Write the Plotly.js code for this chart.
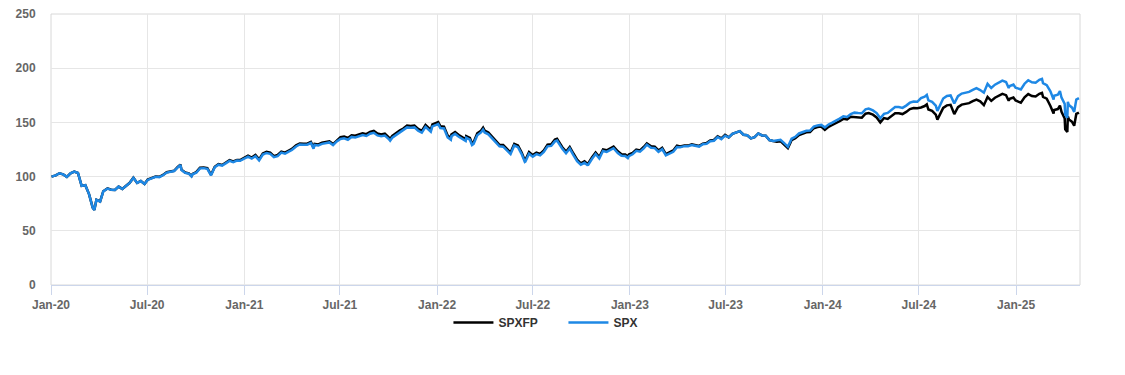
<!DOCTYPE html>
<html>
<head>
<meta charset="utf-8">
<script src="https://cdn.plot.ly/plotly-3.0.1.min.js"></script>
<style>
  html, body { margin: 0; padding: 0; background: #fff; }
  #chart { width: 1125px; height: 375px; }
</style>
</head>
<body>
<div id="chart"></div>
<script>
const dates = [
"2020-01-02","2020-01-03","2020-01-10","2020-01-17","2020-01-24","2020-01-31","2020-02-07","2020-02-14","2020-02-21","2020-02-28",
"2020-03-06","2020-03-13","2020-03-20","2020-03-23","2020-03-27","2020-04-03","2020-04-09","2020-04-17","2020-04-24","2020-05-01",
"2020-05-08","2020-05-15","2020-05-22","2020-05-29","2020-06-05","2020-06-12","2020-06-19","2020-06-26","2020-07-02","2020-07-10",
"2020-07-17","2020-07-24","2020-07-31","2020-08-07","2020-08-14","2020-08-21","2020-08-28","2020-09-02","2020-09-04","2020-09-11",
"2020-09-18","2020-09-23","2020-09-25","2020-10-02","2020-10-09","2020-10-16","2020-10-23","2020-10-30","2020-11-06","2020-11-13",
"2020-11-20","2020-11-27","2020-12-04","2020-12-11","2020-12-18","2020-12-24","2020-12-31",
"2021-01-08","2021-01-15","2021-01-22","2021-01-29","2021-02-05","2021-02-12","2021-02-19","2021-02-26","2021-03-05","2021-03-12",
"2021-03-19","2021-03-26","2021-04-01","2021-04-09","2021-04-16","2021-04-23","2021-04-30","2021-05-07","2021-05-12","2021-05-14",
"2021-05-21","2021-05-28","2021-06-04","2021-06-11","2021-06-18","2021-06-25","2021-07-02","2021-07-09","2021-07-16","2021-07-23",
"2021-07-30","2021-08-06","2021-08-13","2021-08-20","2021-08-27","2021-09-03","2021-09-10","2021-09-17","2021-09-24","2021-10-01",
"2021-10-04","2021-10-08","2021-10-15","2021-10-22","2021-10-29","2021-11-05","2021-11-12","2021-11-19","2021-11-26","2021-11-30",
"2021-12-03","2021-12-10","2021-12-17","2021-12-20","2021-12-23","2021-12-31",
"2022-01-03","2022-01-07","2022-01-14","2022-01-21","2022-01-27","2022-01-28","2022-02-04","2022-02-11","2022-02-18","2022-02-24",
"2022-02-25","2022-03-04","2022-03-08","2022-03-11","2022-03-18","2022-03-25","2022-03-29","2022-04-01","2022-04-08","2022-04-14",
"2022-04-22","2022-04-29","2022-05-06","2022-05-13","2022-05-20","2022-05-27","2022-06-03","2022-06-10","2022-06-16","2022-06-17",
"2022-06-24","2022-07-01","2022-07-08","2022-07-15","2022-07-22","2022-07-29","2022-08-05","2022-08-12","2022-08-16","2022-08-19",
"2022-08-26","2022-09-02","2022-09-09","2022-09-16","2022-09-23","2022-09-30","2022-10-07","2022-10-12","2022-10-14","2022-10-21",
"2022-10-28","2022-11-04","2022-11-11","2022-11-18","2022-11-25","2022-12-01","2022-12-09","2022-12-16","2022-12-23","2022-12-28",
"2022-12-30",
"2023-01-06","2023-01-13","2023-01-20","2023-01-27","2023-02-02","2023-02-10","2023-02-17","2023-02-24","2023-03-03","2023-03-10",
"2023-03-17","2023-03-24","2023-03-31","2023-04-06","2023-04-14","2023-04-21","2023-04-28","2023-05-05","2023-05-12","2023-05-19",
"2023-05-26","2023-06-02","2023-06-09","2023-06-16","2023-06-23","2023-06-30","2023-07-07","2023-07-14","2023-07-21","2023-07-28",
"2023-08-04","2023-08-11","2023-08-18","2023-08-25","2023-09-01","2023-09-08","2023-09-15","2023-09-22","2023-09-29","2023-10-06",
"2023-10-13","2023-10-20","2023-10-27","2023-11-03","2023-11-10","2023-11-17","2023-11-24","2023-12-01","2023-12-08","2023-12-15",
"2023-12-22","2023-12-29",
"2024-01-05","2024-01-12","2024-01-19","2024-01-26","2024-02-02","2024-02-09","2024-02-16","2024-02-23","2024-03-01","2024-03-08",
"2024-03-15","2024-03-22","2024-03-28","2024-04-05","2024-04-12","2024-04-19","2024-04-26","2024-05-03","2024-05-10","2024-05-17",
"2024-05-24","2024-05-31","2024-06-07","2024-06-14","2024-06-21","2024-06-28","2024-07-05","2024-07-12","2024-07-16","2024-07-19",
"2024-07-26","2024-08-02","2024-08-05","2024-08-09","2024-08-16","2024-08-23","2024-08-30","2024-09-06","2024-09-13","2024-09-20",
"2024-09-27","2024-10-04","2024-10-11","2024-10-18","2024-10-25","2024-11-01","2024-11-08","2024-11-15","2024-11-22","2024-11-29",
"2024-12-06","2024-12-13","2024-12-18","2024-12-20","2024-12-27","2024-12-31",
"2025-01-10","2025-01-17","2025-01-24","2025-01-31","2025-02-07","2025-02-14","2025-02-19","2025-02-21","2025-02-28","2025-03-07",
"2025-03-13","2025-03-14","2025-03-21","2025-03-25","2025-03-28","2025-04-03","2025-04-04","2025-04-08","2025-04-09","2025-04-11",
"2025-04-17","2025-04-21","2025-04-25","2025-04-30"
];

const spx = [
100.0,100.1,101.1,103.1,102.0,99.8,103.0,104.6,103.3,91.4,
92.0,83.9,71.3,69.2,78.6,77.0,86.4,89.0,87.8,87.6,
90.7,88.6,91.5,94.2,98.9,94.1,95.9,93.1,96.9,98.6,
99.8,99.5,101.2,103.7,104.4,105.1,108.6,110.8,106.1,103.4,
102.7,100.2,102.1,103.6,107.6,107.8,107.2,101.2,108.6,111.0,
110.1,112.6,114.5,113.4,114.8,114.6,116.3,
118.4,116.6,118.9,115.0,120.3,121.8,121.0,118.0,118.9,122.1,
121.1,123.1,124.5,127.8,129.6,129.4,129.4,131.0,125.8,129.2,
128.7,130.2,131.0,131.5,129.0,132.5,134.7,135.3,134.0,136.6,
136.1,137.4,138.3,137.5,139.6,140.4,138.0,137.2,137.9,134.9,
133.1,135.9,138.4,140.7,142.6,145.4,145.0,145.4,142.3,141.4,
140.5,145.9,143.0,141.4,146.3,147.6,
148.5,144.8,144.4,136.2,134.0,137.2,139.4,136.8,134.6,132.8,
135.8,134.0,129.1,130.2,138.2,140.7,143.4,140.7,139.0,136.0,
132.3,127.9,127.6,124.6,120.8,128.7,127.2,120.8,113.5,113.8,
121.1,118.4,120.7,119.6,122.7,127.9,128.3,132.5,133.3,130.9,
125.6,121.5,125.9,119.9,114.3,111.0,112.7,110.7,110.9,116.2,
120.8,116.7,123.6,122.8,124.6,126.2,121.8,119.3,119.0,117.1,
118.9,
120.6,123.8,123.0,126.0,129.4,126.6,126.3,122.9,125.3,119.6,
121.3,122.9,127.2,127.1,128.1,128.0,129.1,128.1,127.7,129.8,
130.2,132.6,133.1,136.5,134.6,137.8,136.2,139.5,140.4,141.9,
138.6,138.2,135.3,136.4,139.8,138.0,137.8,133.7,132.8,133.4,
134.0,130.8,127.5,134.9,136.7,139.8,141.1,142.3,142.5,146.1,
147.2,147.7,
145.4,148.1,149.8,151.4,153.5,155.6,155.0,157.6,159.0,158.6,
158.4,162.0,162.7,161.1,158.6,153.8,157.9,158.8,161.7,164.2,
164.2,163.4,165.5,168.2,169.2,169.0,172.4,173.8,175.4,170.4,
169.0,165.5,160.6,165.4,172.0,174.4,174.9,167.4,174.2,176.6,
177.6,178.1,180.0,181.6,179.8,177.4,185.6,181.7,184.8,186.8,
188.6,187.3,181.8,183.6,184.9,182.1,
180.4,185.7,188.9,187.0,186.6,189.3,190.2,186.2,184.4,178.6,
171.0,174.6,175.5,178.9,172.8,167.1,157.1,154.3,169.0,166.0,
163.6,159.7,171.1,172.4
];

const spxfp = [
100.0,100.1,101.1,103.1,102.0,99.8,103.0,104.6,103.3,91.4,
92.0,83.9,71.4,69.3,78.7,77.1,86.5,89.1,87.9,87.7,
90.8,88.7,91.6,94.3,99.0,94.2,96.0,93.2,97.2,98.9,
100.1,99.8,101.5,104.0,104.7,105.4,108.9,111.1,106.4,103.7,
103.0,100.5,102.4,104.1,108.1,108.3,107.7,101.7,109.1,111.6,
110.7,113.2,115.1,114.0,115.4,115.2,116.9,
119.3,117.5,119.9,115.9,121.3,122.8,122.0,118.9,119.9,123.1,
122.1,124.1,125.5,128.8,130.6,130.4,130.4,132.0,126.8,130.2,
129.7,131.2,132.0,132.6,130.0,133.6,136.3,136.9,135.6,138.2,
137.7,139.0,140.0,139.2,141.3,142.1,139.7,138.8,139.6,136.5,
134.7,137.5,140.1,142.4,144.3,147.1,146.7,147.1,144.0,143.1,
142.2,147.7,144.7,143.1,148.1,149.4,
150.3,146.5,146.1,137.8,135.6,138.8,141.1,138.4,136.2,134.4,
137.4,135.6,130.6,131.8,139.9,142.4,145.1,142.4,140.7,137.6,
133.9,129.4,129.1,126.1,122.2,130.2,128.7,122.2,114.9,115.2,
122.6,119.8,122.1,121.0,124.2,129.4,129.8,134.1,134.9,132.5,
127.1,123.0,127.4,121.3,115.7,112.3,114.1,112.0,112.2,117.6,
122.2,118.1,125.1,124.3,126.1,127.7,123.3,120.7,120.4,118.5,
120.3,
121.8,125.0,124.2,127.3,130.7,127.9,127.6,124.1,126.6,120.8,
122.5,124.1,128.5,127.7,128.7,128.6,129.7,128.7,128.3,130.4,
130.9,133.3,133.8,137.2,135.3,138.5,136.2,139.5,140.4,141.9,
138.6,138.2,135.3,136.4,139.8,138.0,137.8,133.7,132.8,132.1,
132.7,129.5,126.2,133.6,135.3,138.4,139.7,140.9,141.1,144.6,
145.7,146.2,
143.2,145.9,147.6,149.1,151.2,153.3,152.7,155.2,155.0,154.6,
154.4,158.0,158.6,157.1,154.6,150.0,154.0,153.2,156.0,158.5,
158.5,157.7,159.7,162.3,163.3,163.1,163.8,165.1,166.6,161.9,
160.6,157.2,152.6,157.1,163.4,165.7,166.2,157.7,164.1,166.4,
167.3,167.8,169.6,171.1,169.4,165.9,173.5,169.9,172.8,174.7,
176.3,175.1,170.0,171.7,172.9,170.3,
168.1,173.1,176.1,174.3,173.9,176.4,177.3,173.5,171.9,165.2,
158.2,161.5,162.3,165.5,159.8,153.7,143.7,141.2,155.5,152.7,
150.5,146.9,157.8,159.1
];

const seriesNames = ["SPXFP", "SPX"];
const seriesColors = ["#000000", "#1e88e5"];

const tickFont = {family: "Liberation Sans, Arial, sans-serif", size: 12, color: "#666666", weight: "bold"};

const traces = [
  {x: dates, y: spxfp, name: seriesNames[0], type: "scatter", mode: "lines",
   line: {color: seriesColors[0], width: 2.5}},
  {x: dates, y: spx, name: seriesNames[1], type: "scatter", mode: "lines",
   line: {color: seriesColors[1], width: 2.5}}
];

const layout = {
  width: 1125, height: 375,
  margin: {l: 51, r: 45, t: 14, b: 90},
  paper_bgcolor: "#ffffff", plot_bgcolor: "#ffffff",
  showlegend: true,
  legend: {orientation: "h", x: 0.498, xanchor: "center", y: -0.085, yanchor: "top",
    entrywidth: 60, entrywidthmode: "pixels", itemwidth: 40,
    font: {family: "Liberation Sans, Arial, sans-serif", size: 12, color: "#333333", weight: "bold"},
    bgcolor: "rgba(0,0,0,0)"},
  xaxis: {
    type: "date",
    range: ["2020-01-01", "2025-05-02"],
    tick0: "2020-01-01", dtick: "M6", tickformat: "%b-%y",
    showgrid: true, gridcolor: "#e6e6e6", gridwidth: 1,
    showline: true, linecolor: "#ccd6eb", linewidth: 1,
    ticks: "outside", ticklen: 9, tickcolor: "#ccd6eb", tickwidth: 1,
    tickfont: tickFont, zeroline: false, fixedrange: true
  },
  yaxis: {
    range: [0, 250], dtick: 50, tick0: 0,
    showgrid: true, gridcolor: "#e6e6e6", gridwidth: 1,
    showline: false, zeroline: false,
    ticks: "outside", ticklen: 12, tickcolor: "rgba(0,0,0,0)",
    tickfont: tickFont, fixedrange: true
  },
  shapes: [
    {type: "rect", xref: "paper", yref: "paper", x0: 0, x1: 1, y0: 0, y1: 1,
     line: {color: "#d8d8d8", width: 1}, fillcolor: "rgba(0,0,0,0)", layer: "below"}
  ]
};

Plotly.newPlot("chart", traces, layout, {displayModeBar: false, staticPlot: true});
</script>
</body>
</html>
